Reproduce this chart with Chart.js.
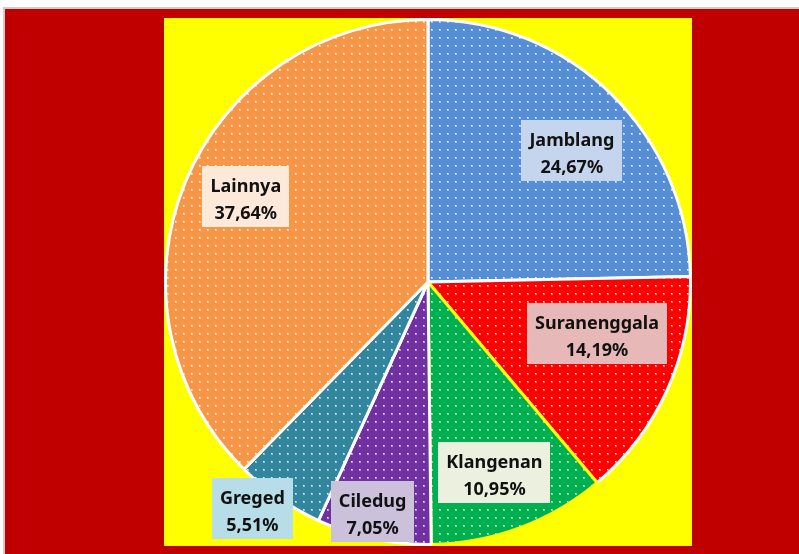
<!DOCTYPE html>
<html>
<head>
<meta charset="utf-8">
<script src="https://cdn.jsdelivr.net/npm/chart.js@4"></script>
<style>
  body { margin: 0; background: #fff; width: 799px; height: 554px; overflow: hidden; }
  #frame { position: absolute; left: 3px; top: 7px; width: 796px; height: 547px;
           border-top: 2px solid #cdcdcd; border-left: 2px solid #cdcdcd; background: #c00000; }
  #plot { position: absolute; left: 164px; top: 18px; width: 528px; height: 528px; background: #ffff00; }
</style>
</head>
<body>
<div id="frame"></div>
<div id="plot"><canvas id="myChart" width="528" height="528"></canvas></div>
<script>
let labels = ["Jamblang", "Suranenggala", "Klangenan", "Ciledug", "Greged", "Lainnya"];
let vals = [24.67, 14.19, 10.95, 7.05, 5.51, 37.64];
let valTexts = ["24,67%", "14,19%", "10,95%", "7,05%", "5,51%", "37,64%"];

let colors = ['#558ed5', '#ff0000', '#00b050', '#7030a0', '#31859c', '#f79646'];
let borders = ['#ffffff', '#ffffff', '#ffff00', '#ffffff', '#ffffff', '#ffffff'];
let boxColors = ['#c6d5ee', '#e6b9b8', '#ebf1de', '#ccc1da', '#b7dde8', '#fde9d9'];
// label box centre, as fraction of the radius from the pie centre
let labelPos = [[0.548, -0.502], [0.644, 0.198], [0.253, 0.726], [-0.211, 0.876], [-0.669, 0.863], [-0.694, -0.325]];

function dotted(color) {
    let c = document.createElement('canvas');
    c.width = 8; c.height = 8;
    let g = c.getContext('2d');
    g.fillStyle = color;
    g.fillRect(0, 0, 8, 8);
    g.fillStyle = 'rgba(255,255,255,0.5)';
    g.fillRect(3, 3, 2, 2);
    g.fillStyle = 'rgba(255,255,255,0.9)';
    g.fillRect(3, 3, 1, 1);
    return g.createPattern(c, 'repeat');
}

const boxLabels = {
    id: 'boxLabels',
    afterDatasetsDraw(chart) {
        const ctx = chart.ctx;
        const arcs = chart.getDatasetMeta(0).data;
        ctx.save();
        ctx.font = 'bold 18px "Noto Sans"';
        arcs.forEach((arc, i) => {
            const r = arc.outerRadius;
            const cx = arc.x + labelPos[i][0] * r;
            const cy = arc.y + labelPos[i][1] * r;
            const w = Math.max(ctx.measureText(labels[i]).width, ctx.measureText(valTexts[i]).width) + 16;
            const h = 61;
            const top = Math.round(cy - h / 2);
            ctx.fillStyle = boxColors[i];
            ctx.fillRect(Math.round(cx - w / 2), top, Math.round(w), h);
            ctx.fillStyle = '#111';
            ctx.textAlign = 'center';
            ctx.textBaseline = 'alphabetic';
            ctx.fillText(labels[i], cx, top + 26);
            ctx.fillText(valTexts[i], cx, top + 53);
        });
        ctx.restore();
    }
};

const myChart = new Chart(document.getElementById("myChart").getContext("2d"), {
    type: 'pie',
    data: {
        labels: labels,
        datasets: [{
            data: vals,
            backgroundColor: colors.map(dotted),
            borderColor: borders,
            borderWidth: 3
        }]
    },
    options: {
        responsive: false,
        animation: false,
        events: [],
        layout: { padding: 0 },
        plugins: {
            legend: { display: false },
            tooltip: { enabled: false }
        }
    },
    plugins: [boxLabels]
});
</script>
</body>
</html>
